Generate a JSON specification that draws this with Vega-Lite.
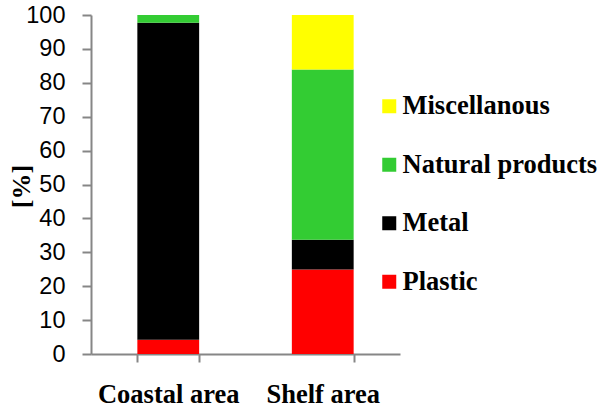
{
  "$schema": "https://vega.github.io/schema/vega-lite/v6.json",
  "width": 309,
  "height": 339,
  "autosize": {"type": "none"},
  "padding": {"left": 91, "top": 15, "right": 197, "bottom": 55},
  "background": "white",
  "data": {
    "values": [
      {"area": "Coastal area", "category": "Plastic", "value": 4.2, "order": 1},
      {"area": "Coastal area", "category": "Metal", "value": 93.5, "order": 2},
      {"area": "Coastal area", "category": "Natural products", "value": 2.3, "order": 3},
      {"area": "Coastal area", "category": "Miscellanous", "value": 0, "order": 4},
      {"area": "Shelf area", "category": "Plastic", "value": 24.9, "order": 1},
      {"area": "Shelf area", "category": "Metal", "value": 8.8, "order": 2},
      {"area": "Shelf area", "category": "Natural products", "value": 50.2, "order": 3},
      {"area": "Shelf area", "category": "Miscellanous", "value": 16.1, "order": 4}
    ]
  },
  "mark": {"type": "bar"},
  "encoding": {
    "x": {
      "field": "area",
      "type": "nominal",
      "sort": ["Coastal area", "Shelf area"],
      "scale": {"paddingInner": 0.6, "paddingOuter": 0.3},
      "axis": {
        "title": null,
        "labelAngle": 0,
        "labelFont": "Liberation Serif",
        "labelFontWeight": "bold",
        "labelFontSize": 26.5,
        "labelColor": "black",
        "labelPadding": 19,
        "tickBand": "extent",
        "tickSize": 8,
        "tickColor": "#868686",
        "tickWidth": 2,
        "domainColor": "#868686",
        "domainWidth": 2,
        "grid": false
      }
    },
    "y": {
      "field": "value",
      "type": "quantitative",
      "stack": "zero",
      "scale": {"domain": [0, 100]},
      "axis": {
        "title": "[%]",
        "titleFont": "Liberation Serif",
        "titleFontWeight": "bold",
        "titleFontSize": 26,
        "titleColor": "black",
        "titleAngle": -90,
        "titleBaseline": "middle",
        "titleAlign": "center",
        "titleX": -70,
        "titleY": 171,
        "values": [0, 10, 20, 30, 40, 50, 60, 70, 80, 90, 100],
        "labelFont": "Liberation Sans",
        "labelFontSize": 23.5,
        "labelColor": "black",
        "labelPadding": 17,
        "tickSize": 9,
        "tickColor": "#868686",
        "tickWidth": 2,
        "domainColor": "#868686",
        "domainWidth": 2,
        "grid": false
      }
    },
    "color": {
      "field": "category",
      "type": "nominal",
      "scale": {
        "domain": ["Miscellanous", "Natural products", "Metal", "Plastic"],
        "range": ["#FFFF00", "#33CC33", "#000000", "#FF0000"]
      },
      "legend": {
        "title": null,
        "orient": "none",
        "legendX": 285,
        "legendY": 78,
        "symbolType": "square",
        "symbolSize": 196,
        "symbolStrokeWidth": 0,
        "symbolOpacity": 1,
        "labelFont": "Liberation Serif",
        "labelFontWeight": "bold",
        "labelFontSize": 26.5,
        "labelColor": "black",
        "labelOffset": 0,
        "labelLimit": 300,
        "rowPadding": 31.5
      }
    },
    "order": {"field": "order", "type": "quantitative"}
  },
  "config": {"view": {"stroke": null}}
}
